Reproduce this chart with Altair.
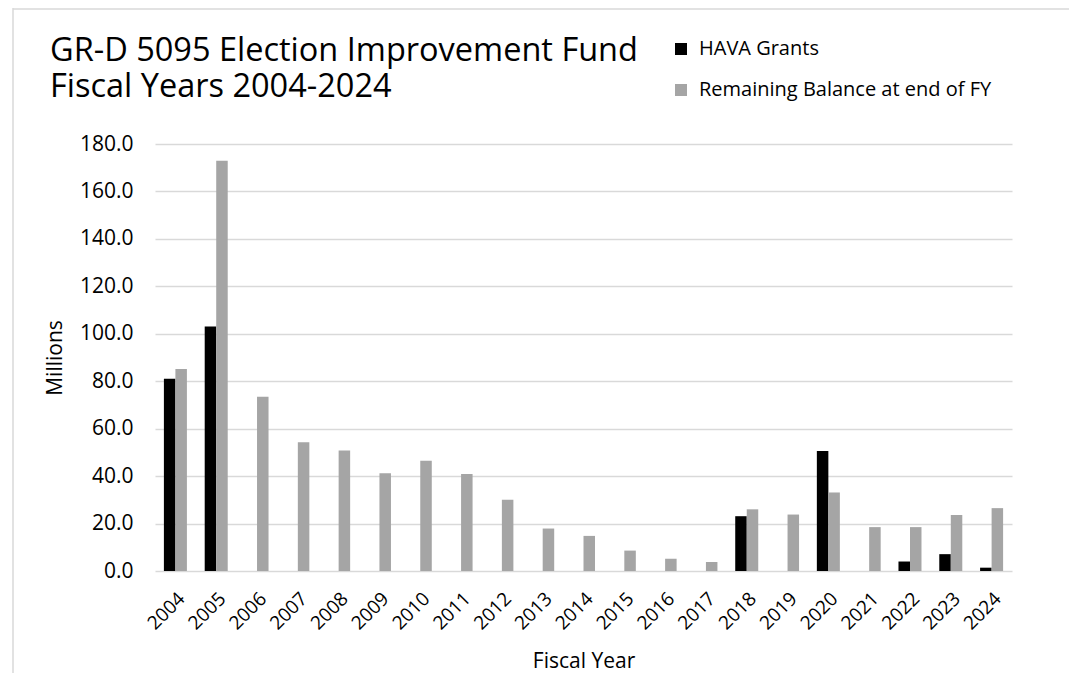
import altair as alt
import pandas as pd

years = [str(y) for y in range(2004, 2025)]
series = ["HAVA Grants", "Remaining Balance at end of FY"]
hava = [81.0, 103.1, 0, 0, 0, 0, 0, 0, 0, 0, 0, 0, 0, 0, 23.1, 0, 50.6, 0, 4.0, 7.1, 1.4]
balance = [85.2, 172.9, 73.5, 54.3, 50.8, 41.2, 46.5, 40.9, 30.0, 17.9, 14.8,
           8.6, 5.2, 3.8, 26.0, 23.8, 33.1, 18.5, 18.5, 23.6, 26.5]
y_ticks = [0, 20, 40, 60, 80, 100, 120, 140, 160, 180]
colors = ["#000000", "#A5A5A5"]

rows = []
for i, yr in enumerate(years):
    rows.append({"year": yr, "series": series[0], "value": hava[i]})
    rows.append({"year": yr, "series": series[1], "value": balance[i]})
df = pd.DataFrame(rows)

FONT = "Open Sans"
W, H = 857, 427

bars = alt.Chart(df).mark_bar().encode(
    x=alt.X(
        "year:N", sort=years,
        scale=alt.Scale(paddingInner=0.436, paddingOuter=0.218),
        axis=alt.Axis(
            title="Fiscal Year", labelAngle=-45, labelFontSize=19, labelPadding=18,
            ticks=False, domain=False, grid=False, labelColor="#000000",
            titleFontSize=21, titleFontWeight="normal", titleColor="#000000",
            titleX=W / 2, titleY=96, titleBaseline="alphabetic", titleAlign="center",
            labelFont=FONT, titleFont=FONT,
        ),
    ),
    xOffset=alt.XOffset("series:N", sort=series,
                        scale=alt.Scale(paddingInner=0, paddingOuter=0)),
    y=alt.Y(
        "value:Q",
        scale=alt.Scale(domain=[0, 180], nice=False),
        axis=alt.Axis(
            title="Millions", values=y_ticks, format=".1f", labelFontSize=21,
            labelPadding=22, ticks=False, domain=False, grid=True,
            gridColor="#D9D9D9", gridWidth=1.3, labelColor="#000000",
            titleFontSize=21, titleFontWeight="normal", titleColor="#000000",
            titleX=-100, titleY=H / 2, titleAngle=-90, titleBaseline="middle",
            titleAlign="center", labelFont=FONT, titleFont=FONT,
        ),
    ),
    color=alt.Color(
        "series:N", sort=series,
        scale=alt.Scale(domain=series, range=colors),
        legend=alt.Legend(
            title=None, orient="none", legendX=516, legendY=-105,
            symbolType="square", symbolSize=144, symbolStrokeWidth=0,
            labelFontSize=20, labelFont=FONT, labelColor="#000000",
            rowPadding=21, labelOffset=8, padding=0, labelLimit=400,
        ),
    ),
)

frame_left = alt.Chart(pd.DataFrame({"a": [0]})).mark_rule(color="#D9D9D9", strokeWidth=1.5).encode(
    x=alt.value(-142), y=alt.value(-136), y2=alt.value(H + 102)
)
frame_top = alt.Chart(pd.DataFrame({"a": [0]})).mark_rule(color="#D9D9D9", strokeWidth=1.5).encode(
    x=alt.value(-142), x2=alt.value(W + 57), y=alt.value(-135)
)

chart = alt.layer(frame_left, frame_top, bars).properties(
    width=W, height=H,
    padding={"left": 147, "top": 136, "right": 57, "bottom": 102},
    autosize=alt.AutoSizeParams(type="none"),
    title=alt.Title(
        ["GR-D 5095 Election Improvement Fund", "Fiscal Years 2004-2024"],
        anchor="start", frame="group", dx=-105, fontSize=32.5, fontWeight="normal",
        lineHeight=36, font=FONT, color="#000000", offset=-96,
    ),
).configure_view(stroke=None)

chart.save("out.html", embed_options={"renderer": "svg", "actions": False})
